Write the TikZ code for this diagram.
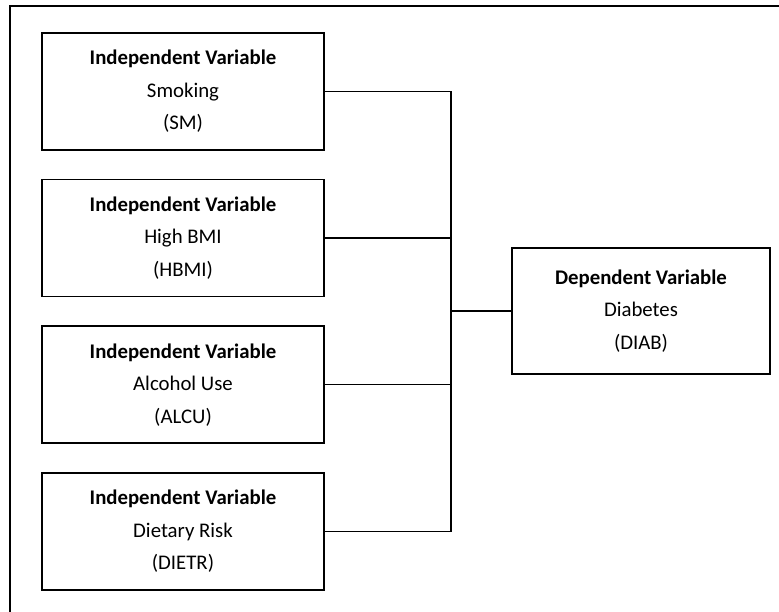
\documentclass[tikz,border=0pt]{standalone}
\usepackage{fontspec}
\setmainfont{Carlito}
\usetikzlibrary{calc,positioning}

\tikzset{
	varbox/.style={draw, line width=1.6pt, align=center, minimum width=282pt, minimum height=117pt, inner sep=0pt, font=\fontsize{20.8}{32.5}\selectfont},
	link/.style={line width=1.4pt}
}

\begin{document}
\begin{tikzpicture}[x=1pt,y=1pt,node distance=28pt]
		\useasboundingbox (0,0) rectangle (779,612);
		% outer frame, cut by the page on the right and at the bottom
		\draw [line width=1.6pt] (10,-40) -- (10,606) -- (840,606);
		\node [varbox] (sm) at (183,520.5) {\textbf{Independent Variable}\\Smoking\\(SM)};
		\node [varbox, below=of sm] (hbmi) {\textbf{Independent Variable}\\High BMI\\(HBMI)};
		\node [varbox, below=of hbmi] (alcu) {\textbf{Independent Variable}\\Alcohol Use\\(ALCU)};
		\node [varbox, below=of alcu] (dietr) {\textbf{Independent Variable}\\Dietary Risk\\(DIETR)};
		\node [varbox, minimum width=258pt, minimum height=126pt] (diab) at (641,301) {\textbf{Dependent Variable}\\Diabetes\\(DIAB)};
		\coordinate (bus) at (451,301);
		\draw [link] (sm.east) -- (sm.east -| bus) -- (dietr.east -| bus) -- (dietr.east);
		\draw [link] (hbmi.east) -- (hbmi.east -| bus);
		\draw [link] (alcu.east) -- (alcu.east -| bus);
		\draw [link] (bus) -- (diab.west);
		\end{tikzpicture}
\end{document}
